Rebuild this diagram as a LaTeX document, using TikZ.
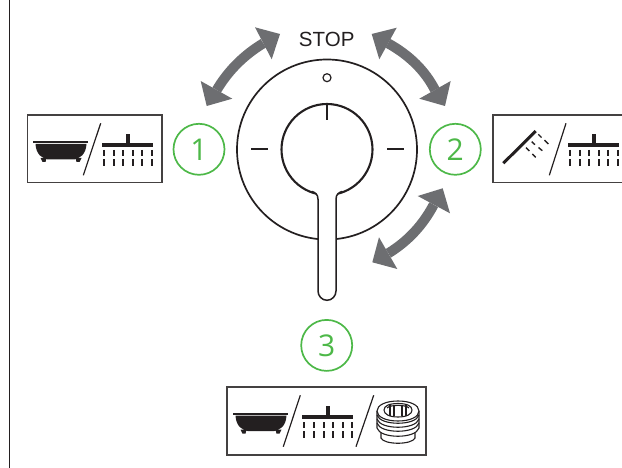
\documentclass[tikz,border=0pt]{standalone}
\usepackage{fontspec}
\setmainfont{Liberation Sans}
\newfontfamily\digitfont{Open Sans}
\definecolor{arrowgrey}{HTML}{6D6E71}
\definecolor{okgreen}{HTML}{4DB848}
\definecolor{inkdark}{HTML}{231F20}
\tikzset{
  modebox/.style={draw=inkdark!85,line width=1.6pt},
  numring/.style={circle,draw=okgreen,line width=1.7pt,minimum size=51pt,inner sep=0pt,text=okgreen,font=\digitfont\fontsize{30}{30}\selectfont},
  slashline/.style={draw=inkdark,line width=1.2pt},
  shaft/.style={draw=arrowgrey,line width=10pt},
  headtip/.style={fill=arrowgrey},
  tub/.pic={
    \draw[inkdark,line width=1.7pt] (33.3,142) -- (88.3,142);
    \fill[inkdark] (35.5,144) -- (86.5,144) .. controls (86,154) and (80,159.5) .. (72,159.5) -- (50,159.5) .. controls (42,159.5) and (36,154) .. (35.5,144) -- cycle;
    \fill[inkdark] (40.5,158) -- (46.5,158) -- (45.5,162) -- (42.5,162) -- cycle;
    \fill[inkdark] (75.5,158) -- (81.5,158) -- (79.5,162) -- (76.5,162) -- cycle;
  },
  rainhead/.pic={
    \fill[inkdark] (102,142.7) rectangle (153,147);
    \fill[inkdark] (126,134) rectangle (130,143);
    \foreach \dx in {104,113.6,123.2,132.8,142.4,152} {
      \draw[inkdark,line width=2pt] (\dx,150) -- (\dx,156);
      \draw[inkdark,line width=2pt] (\dx,159.3) -- (\dx,165.7);
    }
  },
  plug/.pic={
    \begin{scope}[inkdark,line width=1.1pt]
      \draw[fill=white] (381,430) -- (381,438) .. controls (384,445) and (412,445) .. (415,438) -- (415,430);
      \draw[fill=white] (377,411) -- (377,428) .. controls (380,439) and (416,439) .. (419,428) -- (419,411);
      \foreach \ty in {4,8,12} {
        \draw (377,411+\ty) .. controls (380,422+\ty) and (416,422+\ty) .. (419,411+\ty);
      }
      \draw[fill=white] (398,401) .. controls (410,401) and (419,405) .. (419,411) .. controls (419,417) and (410,421) .. (398,421) .. controls (386,421) and (377,417) .. (377,411) .. controls (377,405) and (386,401) .. (398,401) -- cycle;
      \draw (398,403.5) .. controls (407,403.5) and (412,406) .. (412,410) .. controls (412,414) and (407,417) .. (398,417) .. controls (389,417) and (384,414) .. (384,410) .. controls (384,406) and (389,403.5) .. (398,403.5) -- cycle;
      \foreach \hx in {390,394,402,406} {
        \draw (\hx,405) -- (\hx,416);
      }
      \draw (387,408) .. controls (390,404.5) and (406,404.5) .. (409,408);
    \end{scope}
  }
}
\begin{document}
\begin{tikzpicture}[x=1pt,y=-1pt]
\useasboundingbox (0,0) rectangle (622,468);
% left rule
\coordinate (ruleTop) at (9.3,0);
\coordinate (ruleBottom) at (9.3,468);
\draw[inkdark,line width=1.6pt] (ruleTop) -- (ruleBottom);

% mode boxes
\draw[modebox] (27.3,115) rectangle (162,182.7);
\draw[modebox] (624,115) -- (492.7,115) -- (492.7,182.7) -- (624,182.7);
\draw[modebox] (226.7,386.7) rectangle (426,455);

% box 1 icons
\pic at (0,0) {tub};
\coordinate (s1a) at (100.7,123.3); \coordinate (s1b) at (83.3,175.3);
\draw[slashline] (s1a) -- (s1b);
\pic at (0,0) {rainhead};

% box 2 icons
\coordinate (handA) at (503.3,163.3); \coordinate (handB) at (535.7,131);
\draw[inkdark,line width=3pt] (handA) -- (handB);
\draw[inkdark,line width=1.4pt] (538.3,134.3) -- (541.5,137.5) (544.5,140.2) -- (548.3,144);
\draw[inkdark,line width=1.4pt] (531.7,141.7) -- (535,144.7) (538.5,147.5) -- (542.3,150.7);
\draw[inkdark,line width=1.4pt] (526,147.7) -- (529.3,151) (532.3,154) -- (535.7,157.3);
\coordinate (s2a) at (566,123.3); \coordinate (s2b) at (549.3,175.3);
\draw[slashline] (s2a) -- (s2b);
\pic at (466,0) {rainhead};

% box 3 icons
\pic at (200,271.7) {tub};
\coordinate (s3a) at (300.3,395.3); \coordinate (s3b) at (283.3,446.7);
\draw[slashline] (s3a) -- (s3b);
\pic at (200.3,272) {rainhead};
\coordinate (s4a) at (373.7,395.3); \coordinate (s4b) at (356,446.7);
\draw[slashline] (s4a) -- (s4b);
\pic at (0,0) {plug};

% number rings
\node[numring] (n1) at (199,149.3) {1};
\node[numring] (n2) at (455.3,149.3) {2};
\node[numring] (n3) at (326.7,345.4) {3};

% valve body
\node[circle,draw=inkdark,line width=1.7pt,minimum size=180pt,inner sep=0pt] (body) at (327,149.5) {};
\node[circle,draw=inkdark,line width=1.2pt,minimum size=8pt,inner sep=0pt] (stopmark) at (327,77.7) {};
\node[circle,draw=inkdark,line width=2.1pt,minimum size=91pt,inner sep=0pt] (knob) at (327,149.5) {};
\draw[inkdark,line width=2pt] (327,104) -- (327,120);
\draw[inkdark,line width=2pt] (251,149.5) -- (267.7,149.5);
\draw[inkdark,line width=2pt] (387,149.5) -- (403.7,149.5);

% lever
\fill[white] (311.7,191) .. controls (315,192.5) and (318,194) .. (318,199.3) -- (318,291)
  .. controls (318,296) and (322,300.3) .. (327,300.3) .. controls (332,300.3) and (336,296) .. (336,291)
  -- (336,199.3) .. controls (336,194) and (339,192.5) .. (342.3,191) -- cycle;
\draw[inkdark,line width=1.5pt] (311.7,191.4) .. controls (315,192.5) and (318,194) .. (318,199.3) -- (318,291)
  .. controls (318,296) and (322,300.3) .. (327,300.3) .. controls (332,300.3) and (336,296) .. (336,291)
  -- (336,199.3) .. controls (336,194) and (339,192.5) .. (342.3,191.4);

% STOP
\node[text=inkdark,font=\fontsize{20.5}{20.5}\selectfont,inner sep=0pt] (stoplabel) at (326.7,39.3) {STOP};

% arrows
\coordinate (a1s) at (263.3,43.3); \coordinate (a1e) at (216.7,90);
\draw[shaft] (a1s) .. controls (243.7,55.2) and (228.2,70.7) .. (a1e);
\fill[headtip] (255,27.3) -- (280,34) -- (271.7,59.3) -- cycle;
\fill[headtip] (200.7,81) -- (206.7,106) -- (232.3,98.7) -- cycle;

\coordinate (a2s) at (388,43.3); \coordinate (a2e) at (435,90);
\draw[shaft] (a2s) .. controls (409.4,55.2) and (425.1,70.7) .. (a2e);
\fill[headtip] (396.7,27.7) -- (371.7,34) -- (379.3,59.3) -- cycle;
\fill[headtip] (450.7,81) -- (445,106) -- (419.3,98.7) -- cycle;

\coordinate (a3s) at (433.7,204.7); \coordinate (a3e) at (388.3,253.3);
\draw[shaft] (a3s) .. controls (423,225) and (408,241.2) .. (a3e);
\fill[headtip] (417.7,196) -- (442.7,188.3) -- (450,213.3) -- cycle;
\fill[headtip] (379,237.3) -- (372.3,262.3) -- (397.3,269) -- cycle;
\end{tikzpicture}
\end{document}
